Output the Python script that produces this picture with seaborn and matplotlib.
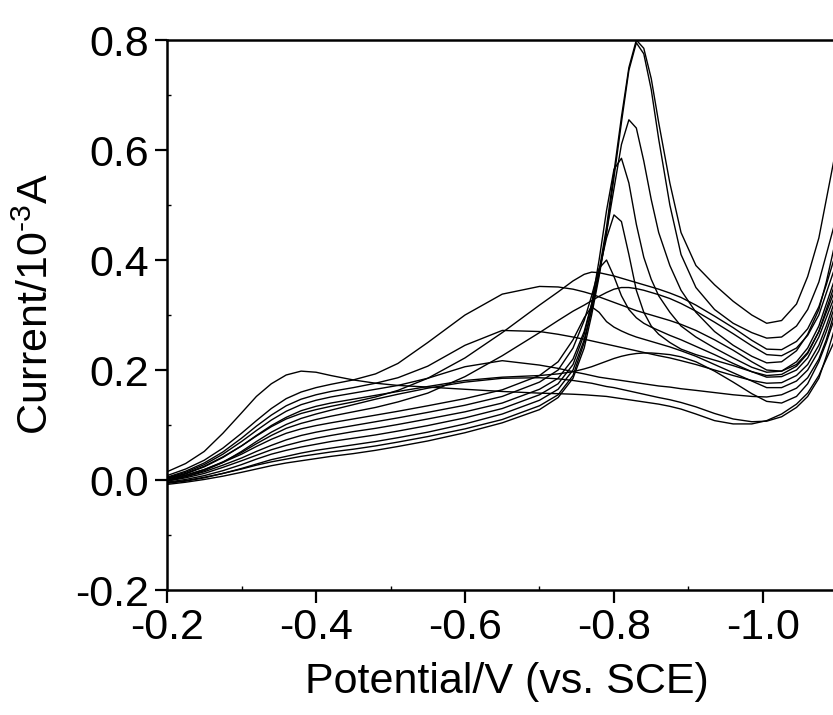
from __future__ import annotations

import matplotlib

matplotlib.use("Agg")

import matplotlib.pyplot as plt
import pandas as pd
import seaborn as sns
from matplotlib.ticker import FormatStrFormatter, MultipleLocator


OUTPUT_FILE = "out.png"

# potential grid (V vs. SCE), shared by all scans
POTENTIAL = [
    -0.200, -0.225, -0.250, -0.275, -0.300, -0.320, -0.340, -0.360, -0.380,
    -0.400, -0.420, -0.450, -0.480, -0.510, -0.550, -0.600, -0.650, -0.700,
    -0.725, -0.745, -0.760, -0.770, -0.780, -0.790, -0.800, -0.810, -0.820,
    -0.830, -0.840, -0.850, -0.860, -0.875, -0.890,
    -0.910, -0.935, -0.960, -0.985, -1.005, -1.025, -1.045, -1.060, -1.075,
    -1.085, -1.095,
]

# current (10^-3 A), one list per scan
PEAK_1 = [
    -0.005, -0.001, 0.005, 0.012, 0.020, 0.027, 0.033, 0.038, 0.043,
    0.047, 0.051, 0.056, 0.062, 0.069, 0.079, 0.093, 0.110, 0.135,
    0.155, 0.190, 0.250, 0.310, 0.380, 0.460, 0.560, 0.660, 0.750,
    0.800, 0.785, 0.730, 0.650, 0.540, 0.450,
    0.390, 0.355, 0.325, 0.300, 0.285, 0.290, 0.320, 0.370, 0.440,
    0.510, 0.580,
]
PEAK_2 = [
    -0.008, -0.004, 0.001, 0.007, 0.014, 0.020, 0.026, 0.031, 0.035,
    0.039, 0.043, 0.048, 0.054, 0.061, 0.071, 0.086, 0.104, 0.128,
    0.150, 0.185, 0.240, 0.300, 0.370, 0.450, 0.550, 0.650, 0.745,
    0.795, 0.775, 0.710, 0.620, 0.500, 0.410,
    0.350, 0.310, 0.285, 0.268, 0.258, 0.260, 0.280, 0.310, 0.360,
    0.410, 0.460,
]
PEAK_3 = [
    -0.006, -0.002, 0.004, 0.012, 0.021, 0.029, 0.037, 0.043, 0.049,
    0.054, 0.058, 0.064, 0.070, 0.077, 0.087, 0.102, 0.120, 0.145,
    0.165, 0.200, 0.255, 0.310, 0.375, 0.450, 0.530, 0.610, 0.655,
    0.640, 0.580, 0.510, 0.450, 0.390, 0.345,
    0.305, 0.270, 0.245, 0.225, 0.213, 0.215, 0.235, 0.265, 0.310,
    0.360, 0.420,
]
PEAK_4 = [
    -0.004, 0.001, 0.008, 0.017, 0.028, 0.038, 0.047, 0.054, 0.060,
    0.065, 0.070, 0.076, 0.082, 0.089, 0.099, 0.113, 0.130, 0.155,
    0.175, 0.210, 0.265, 0.320, 0.400, 0.490, 0.565, 0.585, 0.540,
    0.465, 0.405, 0.365, 0.335, 0.305, 0.280,
    0.260, 0.240, 0.222, 0.205, 0.196, 0.198, 0.215, 0.240, 0.280,
    0.320, 0.360,
]
PEAK_5 = [
    -0.002, 0.004, 0.012, 0.023, 0.035, 0.045, 0.055, 0.063, 0.070,
    0.076, 0.081, 0.088, 0.094, 0.101, 0.111, 0.124, 0.140, 0.165,
    0.185, 0.220, 0.270, 0.320, 0.380, 0.440, 0.482, 0.470, 0.410,
    0.345, 0.305, 0.280, 0.265, 0.250, 0.238,
    0.228, 0.218, 0.208, 0.197, 0.190, 0.192, 0.207, 0.230, 0.270,
    0.310, 0.350,
]
PEAK_6 = [
    0.000, 0.006, 0.015, 0.027, 0.040, 0.052, 0.063, 0.073, 0.081,
    0.087, 0.092, 0.099, 0.106, 0.113, 0.123, 0.136, 0.152, 0.178,
    0.200, 0.240, 0.290, 0.335, 0.385, 0.400, 0.370, 0.335, 0.310,
    0.295, 0.285, 0.278, 0.272, 0.263, 0.255,
    0.243, 0.228, 0.212, 0.197, 0.187, 0.188, 0.200, 0.222, 0.260,
    0.295, 0.330,
]
PEAK_7 = [
    0.002, 0.009, 0.019, 0.032, 0.047, 0.061, 0.074, 0.085, 0.093,
    0.099, 0.104, 0.111, 0.118, 0.125, 0.135, 0.148, 0.164, 0.190,
    0.215, 0.255, 0.295, 0.315, 0.305, 0.288, 0.278, 0.271, 0.265,
    0.260, 0.256, 0.252, 0.248, 0.242, 0.235,
    0.225, 0.210, 0.195, 0.180, 0.168, 0.168, 0.180, 0.200, 0.235,
    0.270, 0.310,
]
BROAD_1 = [
    0.003, 0.012, 0.025, 0.042, 0.062, 0.080, 0.097, 0.111, 0.121,
    0.128, 0.134, 0.142, 0.151, 0.163, 0.185, 0.222, 0.268, 0.318,
    0.342, 0.362, 0.374, 0.378, 0.377, 0.374, 0.371, 0.367, 0.363,
    0.359, 0.355, 0.351, 0.347, 0.340, 0.332,
    0.318, 0.298, 0.277, 0.254, 0.238, 0.237, 0.252, 0.275, 0.315,
    0.355, 0.400,
]
BROAD_2 = [
    0.008, 0.020, 0.036, 0.058, 0.085, 0.108, 0.130, 0.148, 0.160,
    0.168, 0.174, 0.182, 0.193, 0.212, 0.250, 0.300, 0.338, 0.352,
    0.351, 0.347, 0.342, 0.338, 0.333, 0.328, 0.323, 0.318, 0.313,
    0.308, 0.304, 0.300, 0.296, 0.290, 0.283,
    0.272, 0.255, 0.236, 0.215, 0.200, 0.198, 0.210, 0.232, 0.270,
    0.305, 0.340,
]
BROAD_3 = [
    0.000, 0.008, 0.019, 0.033, 0.050, 0.066, 0.081, 0.094, 0.103,
    0.110, 0.116, 0.124, 0.132, 0.142, 0.158, 0.188, 0.226, 0.268,
    0.290, 0.307, 0.318, 0.326, 0.334, 0.341, 0.347, 0.350, 0.350,
    0.348, 0.345, 0.341, 0.337, 0.330, 0.321,
    0.307, 0.287, 0.266, 0.244, 0.228, 0.226, 0.240, 0.263, 0.300,
    0.340, 0.380,
]
BROAD_4 = [
    0.005, 0.016, 0.031, 0.051, 0.076, 0.098, 0.118, 0.135, 0.147,
    0.155, 0.161, 0.168, 0.176, 0.186, 0.207, 0.245, 0.272, 0.270,
    0.265, 0.260, 0.256, 0.253, 0.250, 0.247, 0.244, 0.241, 0.238,
    0.235, 0.232, 0.229, 0.226, 0.222, 0.217,
    0.210, 0.200, 0.190, 0.181, 0.176, 0.177, 0.190, 0.210, 0.245,
    0.280, 0.320,
]
BROAD_5 = [
    0.004, 0.014, 0.028, 0.047, 0.070, 0.090, 0.109, 0.125, 0.137,
    0.145, 0.151, 0.158, 0.165, 0.172, 0.185, 0.206, 0.217, 0.209,
    0.203, 0.197, 0.193, 0.190, 0.187, 0.185, 0.183, 0.181, 0.179,
    0.177, 0.175, 0.173, 0.171, 0.169, 0.166,
    0.163, 0.159, 0.155, 0.152, 0.151, 0.155, 0.167, 0.186, 0.220,
    0.255, 0.300,
]
FLAT_1 = [
    0.002, 0.011, 0.024, 0.041, 0.062, 0.081, 0.099, 0.114, 0.126,
    0.134, 0.140, 0.147, 0.154, 0.161, 0.170, 0.181, 0.187, 0.190,
    0.193, 0.197, 0.202, 0.206, 0.211, 0.216, 0.221, 0.225, 0.228,
    0.230, 0.231, 0.231, 0.230, 0.228, 0.224,
    0.215, 0.198, 0.178, 0.157, 0.143, 0.140, 0.152, 0.175, 0.215,
    0.250, 0.290,
]
LOW_1 = [
    0.015, 0.030, 0.052, 0.085, 0.122, 0.152, 0.175, 0.191, 0.198,
    0.196, 0.190, 0.182, 0.176, 0.172, 0.169, 0.165, 0.161, 0.158,
    0.157, 0.156, 0.155, 0.154, 0.153, 0.152, 0.150, 0.148, 0.146,
    0.144, 0.142, 0.140, 0.138, 0.134, 0.129,
    0.120, 0.108, 0.102, 0.102, 0.108, 0.120, 0.138, 0.158, 0.190,
    0.220, 0.250,
]
LOW_2 = [
    -0.002, 0.006, 0.017, 0.032, 0.052, 0.070, 0.087, 0.101, 0.112,
    0.120, 0.127, 0.137, 0.147, 0.156, 0.167, 0.178, 0.185, 0.186,
    0.184, 0.181, 0.178, 0.176, 0.173, 0.170, 0.168, 0.165, 0.162,
    0.159, 0.156, 0.153, 0.150, 0.146, 0.141,
    0.133, 0.121, 0.111, 0.106, 0.107, 0.115, 0.132, 0.152, 0.185,
    0.225, 0.270,
]

SCANS = {
    "peak_1": PEAK_1,
    "peak_2": PEAK_2,
    "peak_3": PEAK_3,
    "peak_4": PEAK_4,
    "peak_5": PEAK_5,
    "peak_6": PEAK_6,
    "peak_7": PEAK_7,
    "broad_1": BROAD_1,
    "broad_2": BROAD_2,
    "broad_3": BROAD_3,
    "broad_4": BROAD_4,
    "broad_5": BROAD_5,
    "flat_1": FLAT_1,
    "low_1": LOW_1,
    "low_2": LOW_2,
}


def build_frame() -> pd.DataFrame:
    frames = []
    for name, current in SCANS.items():
        if len(current) != len(POTENTIAL):
            raise ValueError(f"{name}: {len(current)} values, expected {len(POTENTIAL)}")
        frames.append(
            pd.DataFrame({"scan": name, "potential": POTENTIAL, "current": current})
        )
    return pd.concat(frames, ignore_index=True)


def main() -> None:
    sns.set_theme(style="ticks")
    plt.rcParams["font.family"] = ["Liberation Sans", "DejaVu Sans"]
    plt.rcParams["mathtext.fontset"] = "custom"
    plt.rcParams["mathtext.rm"] = "Liberation Sans"
    plt.rcParams["mathtext.default"] = "regular"
    plt.rcParams["axes.unicode_minus"] = False

    df = build_frame()

    fig = plt.figure(figsize=(8.33, 7.15), dpi=100)
    ax = fig.add_axes([0.2005, 0.1748, 0.7995, 0.7692])

    sns.lineplot(
        data=df,
        x="potential",
        y="current",
        units="scan",
        estimator=None,
        sort=False,
        color="black",
        linewidth=1.0,
        legend=False,
        ax=ax,
    )

    ax.set_xlim(-0.2, -1.094)
    ax.set_ylim(-0.2, 0.8)
    ax.xaxis.set_major_locator(MultipleLocator(0.2))
    ax.xaxis.set_minor_locator(MultipleLocator(0.1))
    ax.yaxis.set_major_locator(MultipleLocator(0.2))
    ax.yaxis.set_minor_locator(MultipleLocator(0.1))
    ax.xaxis.set_major_formatter(FormatStrFormatter("%.1f"))
    ax.yaxis.set_major_formatter(FormatStrFormatter("%.1f"))

    for side in ["left", "bottom", "top"]:
        ax.spines[side].set_linewidth(1.8)
        ax.spines[side].set_color("black")
    ax.spines["right"].set_visible(False)

    ax.tick_params(which="major", direction="out", length=9, width=1.6,
                   labelsize=31, pad=4, color="black", labelcolor="black")
    ax.tick_params(which="minor", direction="in", length=3, width=1.0, color="black")
    ax.tick_params(top=False, right=False, which="both")

    ax.set_xlabel("Potential/V (vs. SCE)", fontsize=31, color="black")
    ax.set_ylabel(r"Current/10$^{\text{-}3}$A", fontsize=31, color="black")
    ax.xaxis.set_label_coords(0.51, -0.13)
    ax.yaxis.set_label_coords(-0.165, 0.52)

    fig.savefig(OUTPUT_FILE, dpi=100)
    plt.close(fig)


if __name__ == "__main__":
    main()
